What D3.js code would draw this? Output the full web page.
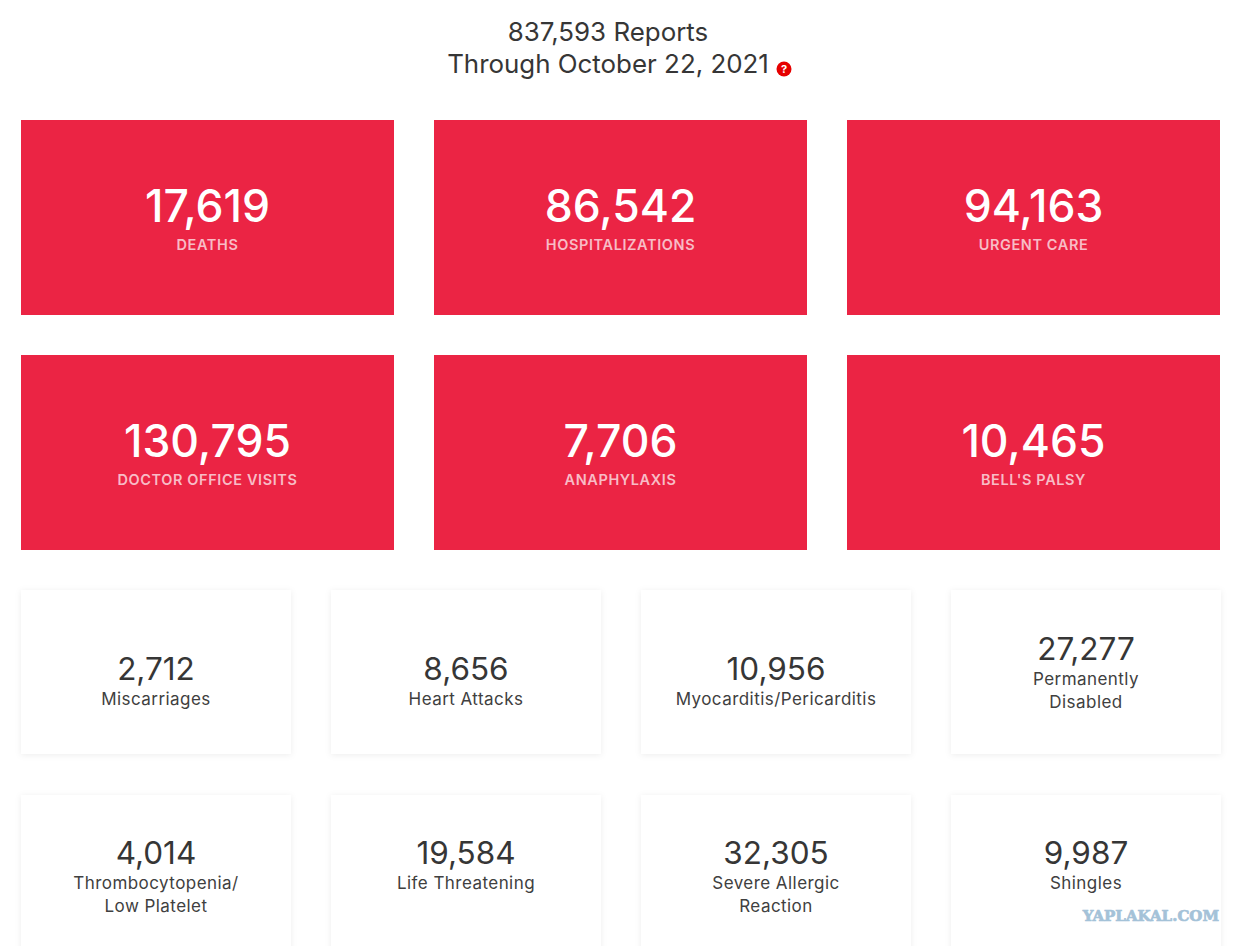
<!DOCTYPE html>
<html>
<head>
<meta charset="utf-8">
<script src="https://cdn.jsdelivr.net/npm/d3@7"></script>
<style>
  html, body { margin: 0; padding: 0; background: #fff; overflow: hidden; }
  svg { display: block; }
  text { font-family: Inter, "Open Sans", sans-serif; }
</style>
</head>
<body>
<div id="chart"></div>
<script>
const titleLines = ["837,593 Reports", "Through October 22, 2021"];

const redValues = ["17,619", "86,542", "94,163", "130,795", "7,706", "10,465"];
const redLabels = ["DEATHS", "HOSPITALIZATIONS", "URGENT CARE", "DOCTOR OFFICE VISITS", "ANAPHYLAXIS", "BELL'S PALSY"];

const whiteValues = ["2,712", "8,656", "10,956", "27,277", "4,014", "19,584", "32,305", "9,987"];
const whiteLabels = [
  ["Miscarriages"],
  ["Heart Attacks"],
  ["Myocarditis/Pericarditis"],
  ["Permanently", "Disabled"],
  ["Thrombocytopenia/", "Low Platelet"],
  ["Life Threatening"],
  ["Severe Allergic", "Reaction"],
  ["Shingles"],
];

const width = 1245;
const height = 946;
const DARK_COLOUR = "#363636";
const RED_COLOUR = "#eb2444";

const svg = d3
  .select("#chart")
  .append("svg")
  .attr("width", width)
  .attr("height", height);

// Title
svg
  .selectAll(".title-line")
  .data(titleLines)
  .join("text")
  .attr("class", "title-line")
  .attr("x", 608)
  .attr("y", (d, i) => 41 + i * 32)
  .attr("text-anchor", "middle")
  .attr("font-size", 25.9)
  .attr("fill", DARK_COLOUR)
  .text((d) => d);

// Help icon
const help = svg.append("g").attr("transform", "translate(784, 69)");
help.append("circle").attr("r", 7.5).attr("fill", "#e60000");
help
  .append("text")
  .attr("y", 4)
  .attr("text-anchor", "middle")
  .attr("font-size", 11)
  .attr("font-weight", 700)
  .attr("fill", "#fff")
  .text("?");

// Red cards
const redX = d3.scaleBand().domain([0, 1, 2]).range([21, 1220]).paddingInner(40 / 413);
const redY = d3.scaleBand().domain([0, 1]).range([120, 550]).paddingInner(40 / 235);

const redCards = svg
  .selectAll(".red-card")
  .data(redValues)
  .join("g")
  .attr("class", "red-card")
  .attr("transform", (d, i) => `translate(${redX(i % 3)}, ${redY(Math.floor(i / 3))})`);

redCards
  .append("rect")
  .attr("width", redX.bandwidth())
  .attr("height", redY.bandwidth())
  .attr("fill", RED_COLOUR);

redCards
  .append("text")
  .attr("x", redX.bandwidth() / 2)
  .attr("y", 102)
  .attr("text-anchor", "middle")
  .attr("font-size", 44.5)
  .attr("font-weight", 500)
  .attr("fill", "#fff")
  .text((d) => d);

redCards
  .append("text")
  .attr("x", redX.bandwidth() / 2)
  .attr("y", 130)
  .attr("text-anchor", "middle")
  .attr("font-size", 14.5)
  .attr("font-weight", 600)
  .attr("letter-spacing", 0.6)
  .attr("fill", "#f8bcc6")
  .text((d, i) => redLabels[i]);

// White cards
const whiteX = d3.scaleBand().domain([0, 1, 2, 3]).range([21, 1221]).paddingInner(40 / 310);
const whiteY = d3.scaleBand().domain([0, 1]).range([590, 959]).paddingInner(41 / 205);

svg
  .append("defs")
  .append("filter")
  .attr("id", "card-shadow")
  .attr("x", "-10%")
  .attr("y", "-10%")
  .attr("width", "120%")
  .attr("height", "120%")
  .append("feDropShadow")
  .attr("dx", 0)
  .attr("dy", 1)
  .attr("stdDeviation", 3)
  .attr("flood-color", "#000")
  .attr("flood-opacity", 0.07);

const whiteCards = svg
  .selectAll(".white-card")
  .data(whiteValues)
  .join("g")
  .attr("class", "white-card")
  .attr("transform", (d, i) => `translate(${whiteX(i % 4)}, ${whiteY(Math.floor(i / 4))})`);

whiteCards
  .append("rect")
  .attr("width", whiteX.bandwidth())
  .attr("height", whiteY.bandwidth())
  .attr("fill", "#fff")
  .attr("filter", "url(#card-shadow)");

// Two line cards in the top row sit higher than the others
const numberY = (i) => (i === 3 ? 70 : i < 4 ? 90 : 69);

whiteCards
  .append("text")
  .attr("x", whiteX.bandwidth() / 2)
  .attr("y", (d, i) => numberY(i))
  .attr("text-anchor", "middle")
  .attr("font-size", 31.5)
  .attr("font-weight", 400)
  .attr("fill", DARK_COLOUR)
  .text((d) => d);

whiteCards.each(function (d, i) {
  d3.select(this)
    .selectAll(".card-label")
    .data(whiteLabels[i])
    .join("text")
    .attr("class", "card-label")
    .attr("x", whiteX.bandwidth() / 2)
    .attr("y", (t, j) => numberY(i) + 25 + j * 23)
    .attr("text-anchor", "middle")
    .attr("font-size", 17)
    .attr("letter-spacing", 0.45)
    .attr("fill", "#404040")
    .text((t) => t);
});

// Watermark
svg
  .append("text")
  .attr("x", 1219)
  .attr("y", 921)
  .attr("text-anchor", "end")
  .attr("font-size", 15)
  .attr("font-weight", 700)
  .attr("stroke", "#a4c2d8")
  .attr("stroke-width", 0.7)
  .style("font-family", "'DejaVu Serif', serif")
  .attr("fill", "#a4c2d8")
  .text("YAPLAKAL.COM");
</script>
</body>
</html>
